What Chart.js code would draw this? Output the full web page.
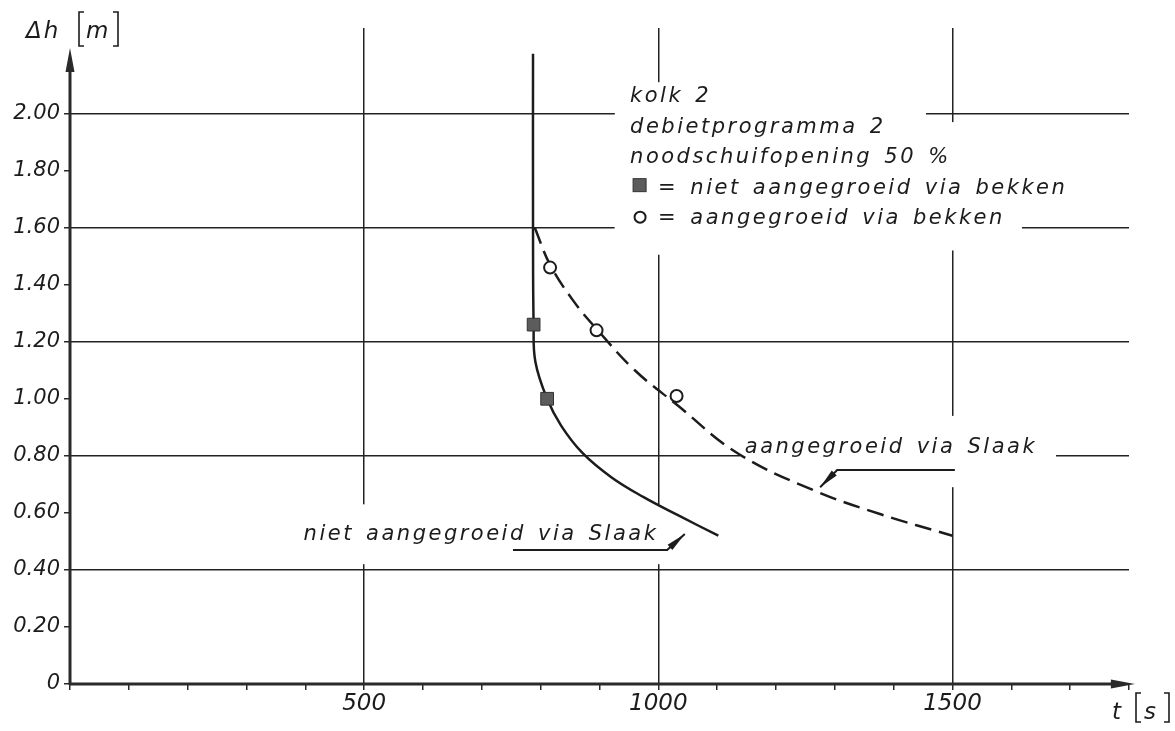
<!DOCTYPE html>
<html>
<head>
<meta charset="utf-8">
<script src="https://cdn.jsdelivr.net/npm/chart.js@4.4.1/dist/chart.umd.min.js"></script>
<style>
  html, body { margin: 0; padding: 0; background: #fff; }
</style>
</head>
<body>
<canvas id="myChart" width="1175" height="731"></canvas>
<script>
// t [s] against dh [m]
var solidT = [787, 787, 788, 791, 811, 835, 871, 920, 975, 1035, 1102];
var solidH = [2.21, 1.60, 1.26, 1.13, 1.00, 0.905, 0.81, 0.725, 0.655, 0.59, 0.52];
var dashT = [790, 816, 855, 895, 960, 1031, 1134, 1263, 1378, 1500];
var dashH = [1.60, 1.47, 1.345, 1.245, 1.10, 0.98, 0.81, 0.68, 0.595, 0.52];
var squareT = [788, 811];
var squareH = [1.26, 1.00];
var circleT = [816, 895, 1031];
var circleH = [1.46, 1.24, 1.01];

var xTicks = [0, 100, 200, 300, 400, 500, 600, 700, 800, 900, 1000, 1100, 1200, 1300, 1400, 1500, 1600, 1700, 1800];
var xLabels = [500, 1000, 1500];
var yTicks = [0, 0.2, 0.4, 0.6, 0.8, 1.0, 1.2, 1.4, 1.6, 1.8, 2.0];
var yGrid = [0.4, 0.8, 1.2, 1.6, 2.0];

var legendLines = ['kolk 2', 'debietprogramma 2', 'noodschuifopening 50 %'];
var squareName = '= niet aangegroeid via bekken';
var circleName = '= aangegroeid via bekken';
var dashName = 'aangegroeid via Slaak';
var solidName = 'niet aangegroeid via Slaak';

function pts(xs, ys) {
  return xs.map(function (x, i) { return { x: x, y: ys[i] }; });
}
function near(list, v) {
  return list.some(function (a) { return Math.abs(a - v) < 1e-6; });
}

var ink = '#1c1c1c';
var font = 'italic 21px "DejaVu Sans"';

function arrowHead(ctx, x1, y1, x2, y2, len, w) {
  var a = Math.atan2(y2 - y1, x2 - x1);
  ctx.beginPath();
  ctx.moveTo(x2, y2);
  ctx.lineTo(x2 - len * Math.cos(a) + w * Math.sin(a), y2 - len * Math.sin(a) - w * Math.cos(a));
  ctx.lineTo(x2 - len * Math.cos(a) - w * Math.sin(a), y2 - len * Math.sin(a) + w * Math.cos(a));
  ctx.closePath();
  ctx.fill();
}

var drawing = {
  id: 'drawing',
  beforeDatasetsDraw: function (chart) {
    var ctx = chart.ctx, X = chart.scales.x, Y = chart.scales.y;
    // white space round the lettering, gridlines are broken there
    var boxes = [[926, 1455, 2.11, 1.505], [926, 1618, 1.97, 1.52], [1139, 1676, 0.94, 0.69], [330, 1030, 0.63, 0.42]];
    ctx.save();
    ctx.fillStyle = '#fff';
    boxes.forEach(function (b) {
      var x1 = X.getPixelForValue(b[0]), x2 = X.getPixelForValue(b[1]);
      var y1 = Y.getPixelForValue(b[2]), y2 = Y.getPixelForValue(b[3]);
      ctx.fillRect(x1, y1, x2 - x1, y2 - y1);
    });
    ctx.restore();
  },
  afterDatasetsDraw: function (chart) {
    var ctx = chart.ctx, X = chart.scales.x, Y = chart.scales.y;
    var x0 = X.getPixelForValue(0), y0 = Y.getPixelForValue(0);
    ctx.save();
    ctx.strokeStyle = '#2a2a2a';
    ctx.fillStyle = '#2a2a2a';
    ctx.lineWidth = 3;
    // axes with arrows
    var yTip = Y.getPixelForValue(2.23);
    ctx.beginPath(); ctx.moveTo(x0, y0 + 1); ctx.lineTo(x0, yTip + 10); ctx.stroke();
    arrowHead(ctx, x0, y0, x0, yTip, 24, 4.5);
    var xTip = X.getPixelForValue(1810);
    ctx.beginPath(); ctx.moveTo(x0 - 1, y0); ctx.lineTo(xTip - 10, y0); ctx.stroke();
    arrowHead(ctx, x0, y0, xTip, y0, 24, 4.5);

    ctx.fillStyle = ink;
    ctx.strokeStyle = ink;
    ctx.font = font;
    ctx.letterSpacing = '2.5px';
    ctx.wordSpacing = '3px';
    ctx.textBaseline = 'alphabetic';

    // legend block
    var lx = X.getPixelForValue(952), ly = Y.getPixelForValue(2.04);
    legendLines.forEach(function (s, i) { ctx.fillText(s, lx, ly + i * 30.5); });
    var sy = ly + 3 * 30.5, cy = ly + 4 * 30.5;
    ctx.fillStyle = '#5c5c5c';
    ctx.fillRect(lx + 3, sy - 15, 13, 13);
    ctx.strokeStyle = '#333';
    ctx.lineWidth = 1;
    ctx.strokeRect(lx + 3, sy - 15, 13, 13);
    ctx.beginPath();
    ctx.arc(lx + 10, cy - 7, 5.5, 0, Math.PI * 2);
    ctx.lineWidth = 2;
    ctx.strokeStyle = ink;
    ctx.stroke();
    ctx.fillStyle = ink;
    ctx.fillText(squareName, lx + 28, sy);
    ctx.fillText(circleName, lx + 28, cy);

    // curve labels with leader arrows
    ctx.fillText(dashName, X.getPixelForValue(1147), Y.getPixelForValue(0.81));
    ctx.textAlign = 'right';
    ctx.fillText(solidName, X.getPixelForValue(1000), Y.getPixelForValue(0.505));
    ctx.textAlign = 'left';

    ctx.lineWidth = 2;
    var a1 = X.getPixelForValue(753), a2 = X.getPixelForValue(1015), ay = Y.getPixelForValue(0.47);
    var at = X.getPixelForValue(1045), aty = Y.getPixelForValue(0.526);
    ctx.beginPath(); ctx.moveTo(a1, ay); ctx.lineTo(a2, ay); ctx.lineTo(at, aty); ctx.stroke();
    arrowHead(ctx, a2, ay, at, aty, 20, 3.5);

    var b1 = X.getPixelForValue(1504), b2 = X.getPixelForValue(1304), by = Y.getPixelForValue(0.75);
    var bt = X.getPixelForValue(1275), bty = Y.getPixelForValue(0.69);
    ctx.beginPath(); ctx.moveTo(b1, by); ctx.lineTo(b2, by); ctx.lineTo(bt, bty); ctx.stroke();
    arrowHead(ctx, b2, by, bt, bty, 20, 3.5);

    // axis titles
    ctx.letterSpacing = '2px';
    ctx.wordSpacing = '0px';
    ctx.font = 'italic 23px "DejaVu Sans"';
    ctx.fillText('\u0394h', 26, 38);
    ctx.fillText('m', 86, 38);
    ctx.fillText('t', 1112, 719);
    ctx.fillText('s', 1144, 719);
    ctx.lineWidth = 1.6;
    function bracket(x, top, bot, dir) {
      ctx.beginPath();
      ctx.moveTo(x + dir * 5, top); ctx.lineTo(x, top); ctx.lineTo(x, bot); ctx.lineTo(x + dir * 5, bot);
      ctx.stroke();
    }
    bracket(79, 12, 46, 1);
    bracket(118, 12, 46, -1);
    bracket(1136, 693, 722, 1);
    bracket(1169, 693, 722, -1);
    ctx.restore();
  }
};

var ctx = document.getElementById('myChart');
var myChart = new Chart(ctx, {
  type: 'scatter',
  data: {
    datasets: [
      {
        label: 'niet aangegroeid via bekken',
        data: pts(squareT, squareH),
        pointStyle: 'rect',
        pointRadius: 9,
        backgroundColor: '#5c5c5c',
        borderColor: '#333',
        borderWidth: 1
      },
      {
        label: 'aangegroeid via bekken',
        data: pts(circleT, circleH),
        pointStyle: 'circle',
        pointRadius: 6,
        backgroundColor: '#fff',
        borderColor: ink,
        borderWidth: 2
      },
      {
        label: 'niet aangegroeid via Slaak',
        data: pts(solidT, solidH),
        showLine: true,
        pointRadius: 0,
        borderColor: ink,
        borderWidth: 2.5,
        tension: 0.4
      },
      {
        label: 'aangegroeid via Slaak',
        data: pts(dashT, dashH),
        showLine: true,
        pointRadius: 0,
        borderColor: ink,
        borderWidth: 2.5,
        borderDash: [17, 8],
        tension: 0.4
      }
    ]
  },
  options: {
    responsive: false,
    maintainAspectRatio: false,
    animation: false,
    layout: { padding: { top: 28, right: 46, left: 0, bottom: 0 } },
    plugins: { legend: { display: false }, tooltip: { enabled: false } },
    scales: {
      x: {
        type: 'linear',
        min: 0,
        max: 1800,
        afterFit: function (s) { s.height = 47; },
        afterBuildTicks: function (s) { s.ticks = xTicks.map(function (v) { return { value: v }; }); },
        ticks: {
          autoSkip: false,
          maxRotation: 0,
          padding: 0,
          color: ink,
          font: { family: 'DejaVu Sans', size: 23, style: 'italic' },
          callback: function (v) { return near(xLabels, v) ? String(v) : ''; }
        },
        grid: {
          color: function (c) { return c.tick && near(xLabels, c.tick.value) ? '#222' : 'rgba(0,0,0,0)'; },
          lineWidth: 1.5,
          drawTicks: true,
          tickLength: 6,
          tickColor: '#2a2a2a',
          tickWidth: 1.5
        },
        border: { display: false }
      },
      y: {
        type: 'linear',
        min: 0,
        max: 2.3,
        afterFit: function (s) { s.width = 70; },
        afterBuildTicks: function (s) { s.ticks = yTicks.map(function (v) { return { value: v }; }); },
        ticks: {
          autoSkip: false,
          padding: 4,
          color: ink,
          font: { family: 'DejaVu Sans', size: 21, style: 'italic' },
          callback: function (v) { return v === 0 ? '0' : v.toFixed(2); }
        },
        grid: {
          color: function (c) { return c.tick && near(yGrid, c.tick.value) ? '#222' : 'rgba(0,0,0,0)'; },
          lineWidth: 1.5,
          drawTicks: true,
          tickLength: 6,
          tickColor: '#2a2a2a',
          tickWidth: 1.5
        },
        border: { display: false }
      }
    }
  },
  plugins: [drawing]
});
</script>
</body>
</html>
